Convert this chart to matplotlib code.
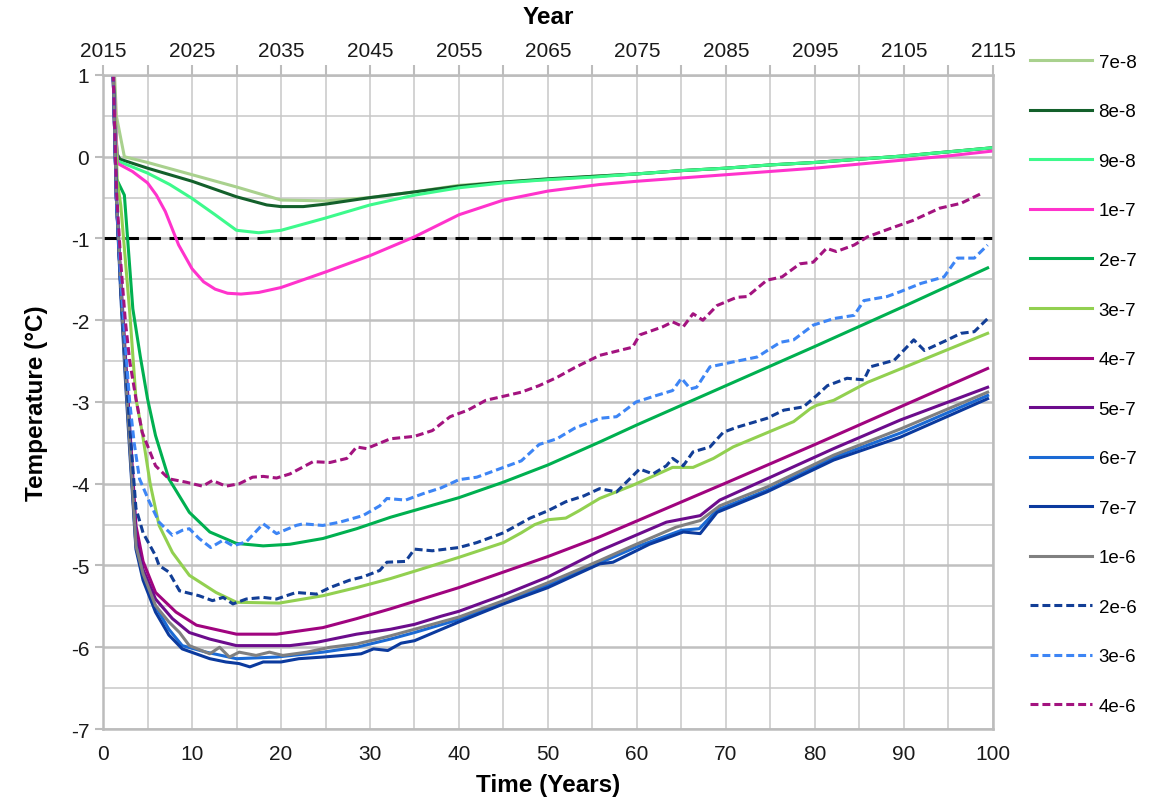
"""Ground temperature vs. time for a range of model parameter values.

Plots temperature (degC) over a 100-year horizon (2015-2115) for
fourteen parameter values, with the -1 degC threshold marked.
Saves the figure to out.png.
"""

import matplotlib.pyplot as plt
from matplotlib.ticker import MultipleLocator

# --- series data (time in years, temperature in degC) ---------------------

t_7e8 = [1.0, 1.3, 1.5, 2.4, 5, 10, 15, 20, 25, 30, 35, 40, 45, 50, 55, 60,
         65, 70, 75, 80, 85, 90, 95, 100]
T_7e8 = [1.6, 1.0, 0.5, 0.0, -0.07, -0.22, -0.37, -0.53, -0.54, -0.5, -0.43,
         -0.35, -0.31, -0.28, -0.24, -0.21, -0.17, -0.14, -0.1, -0.07, -0.03,
         0.01, 0.06, 0.11]

t_8e8 = [1.0, 1.4, 1.6, 1.9, 5, 10, 15, 18.4, 20, 22.5, 25, 30, 35, 40, 45,
         50, 55, 60, 65, 70, 75, 80, 85, 90, 95, 100]
T_8e8 = [1.6, 0.3, 0.03, -0.03, -0.14, -0.3, -0.49, -0.59, -0.61, -0.61,
         -0.58, -0.5, -0.43, -0.36, -0.31, -0.27, -0.24, -0.21, -0.17, -0.14,
         -0.1, -0.07, -0.03, 0.01, 0.06, 0.11]

t_9e8 = [1.0, 1.6, 5, 7.5, 10, 12.6, 15, 17.5, 20, 25, 30, 35, 40, 45, 50,
         55, 60, 65, 70, 75, 80, 85, 90, 95, 100]
T_9e8 = [1.6, -0.05, -0.2, -0.34, -0.51, -0.71, -0.9, -0.93, -0.9, -0.75,
         -0.59, -0.47, -0.38, -0.32, -0.28, -0.25, -0.21, -0.17, -0.14, -0.1,
         -0.07, -0.03, 0.01, 0.06, 0.11]

t_1e7 = [1.0, 1.6, 3.3, 5, 6, 7, 8.5, 10, 11.3, 12.6, 14, 15.5, 17.5, 20, 25,
         30, 35, 40, 45, 50, 55.8, 60, 65, 70, 75, 80, 85, 90, 95, 100]
T_1e7 = [1.6, -0.08, -0.18, -0.32, -0.47, -0.67, -1.08, -1.37, -1.53, -1.62,
         -1.67, -1.68, -1.66, -1.6, -1.41, -1.21, -0.98, -0.71, -0.53, -0.42,
         -0.34, -0.3, -0.26, -0.22, -0.18, -0.14, -0.09, -0.04, 0.01, 0.07]

t_2e7 = [1.0, 1.5, 2.4, 3.35, 4.2, 5, 5.9, 7.4, 9.7, 12, 15, 18, 21, 24.7,
         28.5, 32.3, 40, 45, 50, 55.8, 60, 70, 80, 90, 99.4]
T_2e7 = [1.6, -0.27, -0.47, -1.86, -2.45, -2.96, -3.41, -3.94, -4.35, -4.59,
         -4.73, -4.76, -4.74, -4.67, -4.55, -4.41, -4.17, -3.98, -3.77, -3.49,
         -3.28, -2.8, -2.32, -1.83, -1.36]

t_3e7 = [1.0, 1.6, 2.0, 3.0, 3.7, 4.4, 5.3, 6.3, 7.8, 9.7, 12.7, 15, 19.8,
         24.7, 28.5, 32.3, 35, 40, 45, 47, 48.5, 50, 52, 53.5, 55.8, 59.5, 64,
         66.3, 68.6, 70.8, 77.6, 79.5, 80.2, 82.1, 85.9, 99.4]
T_3e7 = [1.6, -0.3, -0.6, -1.9, -2.96, -3.37, -4.0, -4.51, -4.84, -5.12,
         -5.33, -5.45, -5.46, -5.37, -5.27, -5.16, -5.07, -4.9, -4.72, -4.6,
         -4.5, -4.44, -4.42, -4.33, -4.18, -4.02, -3.8, -3.8, -3.69, -3.55,
         -3.24, -3.08, -3.04, -2.98, -2.76, -2.16]

t_4e7 = [1.0, 1.5, 2.0, 2.5, 3.0, 3.7, 4.5, 5.9, 8.2, 10.5, 15, 19.5, 24.7,
         28.5, 32.3, 40, 45, 50, 55.8, 70, 80, 90, 99.4]
T_4e7 = [1.6, -0.5, -1.5, -2.4, -3.3, -4.51, -4.95, -5.33, -5.57, -5.73,
         -5.84, -5.84, -5.76, -5.65, -5.53, -5.27, -5.08, -4.89, -4.65, -3.99,
         -3.52, -3.04, -2.59]

t_5e7 = [1.0, 1.5, 2.0, 2.5, 3.0, 3.7, 4.5, 5.9, 7.8, 9.7, 12, 15, 21, 24,
         28.5, 32.3, 35, 38, 40, 45, 50, 55.8, 63.3, 67.1, 69.3, 74.6, 82.1,
         89.6, 99.4]
T_5e7 = [1.6, -0.5, -1.6, -2.5, -3.4, -4.67, -5.05, -5.41, -5.65, -5.82, -5.9,
         -5.98, -5.98, -5.94, -5.84, -5.78, -5.72, -5.62, -5.56, -5.36, -5.14,
         -4.82, -4.47, -4.39, -4.2, -3.94, -3.57, -3.22, -2.82]

t_6e7 = [1.0, 1.5, 2.0, 2.5, 3.0, 3.7, 4.5, 5.9, 7.4, 8.9, 11.6, 15, 19.5,
         24.7, 28.5, 32.3, 35, 40, 45, 50, 55.8, 60, 65, 67, 69, 74.6, 82.1,
         89.6, 99.4]
T_6e7 = [1.6, -0.5, -1.6, -2.6, -3.5, -4.76, -5.12, -5.5, -5.78, -5.98, -6.06,
         -6.14, -6.12, -6.06, -6.0, -5.9, -5.82, -5.66, -5.45, -5.24, -4.97,
         -4.77, -4.57, -4.55, -4.32, -4.08, -3.68, -3.38, -2.92]

t_7e7 = [1.0, 1.5, 2.0, 2.5, 3.0, 3.7, 4.5, 5.9, 7.4, 8.9, 12, 13.8, 15.3,
         16.5, 18, 20, 22, 24.7, 27, 29, 30.4, 32, 33.5, 35, 40, 45, 50, 55.8,
         57.3, 61.4, 65.2, 67.1, 69, 74.6, 82.1, 89.6, 99.4]
T_7e7 = [1.6, -0.5, -1.7, -2.7, -3.6, -4.8, -5.18, -5.57, -5.85, -6.02, -6.14,
         -6.18, -6.2, -6.24, -6.18, -6.18, -6.14, -6.12, -6.1, -6.08, -6.02,
         -6.04, -5.95, -5.92, -5.69, -5.47, -5.27, -4.98, -4.96, -4.74, -4.59,
         -4.61, -4.35, -4.1, -3.71, -3.43, -2.96]

t_1e6 = [1.0, 1.5, 2.0, 2.5, 3.0, 3.7, 4.5, 5.9, 7.4, 8.6, 9.7, 12, 13.1,
         14.2, 15.3, 17.2, 18.7, 20.2, 22.9, 25.5, 28.5, 32.3, 35, 40, 45, 50,
         55.8, 59.5, 64.4, 67.1, 69.3, 74.6, 82.1, 89.6, 99.4]
T_1e6 = [1.6, -0.5, -1.6, -2.6, -3.5, -4.76, -5.1, -5.49, -5.69, -5.82, -5.98,
         -6.08, -6.0, -6.12, -6.06, -6.1, -6.06, -6.1, -6.06, -6.0, -5.96,
         -5.86, -5.78, -5.63, -5.43, -5.21, -4.94, -4.76, -4.53, -4.45, -4.27,
         -4.04, -3.65, -3.33, -2.88]

t_2e6 = [1.0, 1.5, 2.0, 2.5, 3.0, 3.7, 4.5, 5.9, 6.3, 7.4, 8.6, 10.8, 12.3,
         13.5, 14.6, 16.1, 18, 19.5, 21.7, 24, 25.5, 27.7, 29.2, 31.1, 31.9,
         34, 35, 37, 40, 42, 45, 48, 50, 52, 54, 55.8, 57.7, 60.3, 61.8, 63.3,
         64, 65.2, 66.3, 68.2, 69.7, 71.2, 74.6, 76.5, 78.7, 80.2, 81.4, 83.6,
         85.5, 86.2, 88.9, 91.1, 92.3, 94.9, 96.4, 97.9, 99.4]
T_2e6 = [1.6, -0.5, -1.6, -2.5, -3.3, -4.3, -4.6, -4.88, -5.0, -5.08, -5.31,
         -5.37, -5.43, -5.39, -5.47, -5.41, -5.39, -5.41, -5.33, -5.35, -5.27,
         -5.18, -5.14, -5.06, -4.96, -4.95, -4.8, -4.82, -4.78, -4.72, -4.6,
         -4.42, -4.33, -4.22, -4.15, -4.06, -4.1, -3.82, -3.88, -3.78, -3.69,
         -3.78, -3.61, -3.55, -3.37, -3.31, -3.2, -3.1, -3.06, -2.92, -2.8,
         -2.71, -2.73, -2.57, -2.49, -2.24, -2.37, -2.24, -2.16, -2.14, -1.98]

t_3e6 = [1.0, 1.5, 2.0, 2.5, 3.0, 3.5, 4.1, 5.2, 6.3, 7.8, 8.9, 9.7, 10.8,
         12.1, 13.5, 14.6, 16.1, 18, 19.5, 21.7, 22.5, 24.7, 26.6, 29.2, 31.1,
         31.9, 34, 36, 38, 40, 42, 45, 47, 49, 51, 53, 55.8, 57.7, 59.9, 62.2,
         64, 65, 66, 66.7, 68.2, 70.8, 73.5, 76.1, 77.6, 79.8, 82.1, 84.4,
         85.5, 88.1, 89.6, 91.9, 94.5, 96, 97.9, 99.4]
T_3e6 = [1.6, -0.5, -1.5, -2.3, -3.0, -3.5, -3.94, -4.22, -4.47, -4.63, -4.57,
         -4.55, -4.67, -4.78, -4.69, -4.76, -4.71, -4.49, -4.61, -4.51, -4.49,
         -4.51, -4.47, -4.39, -4.27, -4.18, -4.2, -4.12, -4.05, -3.95, -3.92,
         -3.8, -3.72, -3.52, -3.45, -3.32, -3.2, -3.18, -3.0, -2.92, -2.86,
         -2.71, -2.84, -2.82, -2.57, -2.51, -2.45, -2.27, -2.24, -2.06, -1.98,
         -1.94, -1.76, -1.71, -1.65, -1.55, -1.47, -1.24, -1.24, -1.08]

t_4e6 = [1.0, 1.5, 2.0, 2.5, 3.0, 3.7, 4.4, 5.9, 7.4, 9.3, 11.2, 12.3, 13.8,
         15.3, 16.8, 18, 19.5, 21, 23.6, 25.5, 27.4, 28.5, 29.6, 32.3, 35, 37,
         39, 41, 43, 45, 47, 49, 51, 53, 55.8, 59.5, 60.3, 62.9, 64, 65.2,
         66.3, 67.4, 69, 71.2, 72.4, 74.6, 76.3, 78.3, 79.8, 81.3, 82.4, 84.4,
         85.9, 88.4, 91, 94, 96.4, 98.7]
T_4e6 = [1.6, -0.4, -1.3, -2.0, -2.5, -2.96, -3.37, -3.78, -3.94, -3.98,
         -4.03, -3.96, -4.03, -4.0, -3.92, -3.91, -3.93, -3.88, -3.73, -3.74,
         -3.69, -3.55, -3.57, -3.45, -3.42, -3.35, -3.18, -3.1, -2.98, -2.93,
         -2.88, -2.8, -2.7, -2.58, -2.43, -2.33, -2.18, -2.08, -2.02, -2.08,
         -1.92, -2.0, -1.82, -1.72, -1.71, -1.51, -1.47, -1.31, -1.29, -1.12,
         -1.16, -1.08, -0.98, -0.88, -0.78, -0.63, -0.57, -0.45]

labels = ["7e-8", "8e-8", "9e-8", "1e-7", "2e-7", "3e-7", "4e-7", "5e-7",
          "6e-7", "7e-7", "1e-6", "2e-6", "3e-6", "4e-6"]
times = [t_7e8, t_8e8, t_9e8, t_1e7, t_2e7, t_3e7, t_4e7, t_5e7, t_6e7,
         t_7e7, t_1e6, t_2e6, t_3e6, t_4e6]
temps = [T_7e8, T_8e8, T_9e8, T_1e7, T_2e7, T_3e7, T_4e7, T_5e7, T_6e7,
         T_7e7, T_1e6, T_2e6, T_3e6, T_4e6]
colors = ["#a9d18e", "#13602b", "#3dfa8c", "#ff33cc", "#00b050", "#92d050",
          "#a0047f", "#6c0c8c", "#1b6ad4", "#0b3a9e", "#808080", "#123e96",
          "#3d85f5", "#a3137f"]
dashed = [False] * 11 + [True] * 3

start_year = 2015
threshold = -1.0

plt.rcParams["font.family"] = ["Liberation Sans", "DejaVu Sans"]
plt.rcParams["axes.unicode_minus"] = False

fig = plt.figure(figsize=(11.51, 8.03), dpi=100)
ax = fig.add_axes([0.0895, 0.0909, 0.7732, 0.8145])

for t, T, c, lab, dsh in zip(times, temps, colors, labels, dashed):
    if dsh:
        ax.plot(t, T, color=c, lw=2.2, dashes=(2.6, 1.3), label=lab)
    else:
        ax.plot(t, T, color=c, lw=2.2, label=lab)

ax.axhline(threshold, color="black", lw=2.2, dashes=(4.4, 2.8), zorder=1.5)

ax.set_xlim(0, 100)
ax.set_ylim(-7, 1)
ax.xaxis.set_major_locator(MultipleLocator(10))
ax.xaxis.set_minor_locator(MultipleLocator(5))
ax.yaxis.set_major_locator(MultipleLocator(1))
ax.yaxis.set_minor_locator(MultipleLocator(0.5))

grid_col = "#c8c8c8"
ax.grid(True, which="major", axis="y", color="#c0c0c0", lw=1.8)
ax.grid(True, which="minor", axis="y", color=grid_col, lw=1.1)
ax.grid(True, which="both", axis="x", color=grid_col, lw=1.1)
ax.set_axisbelow(True)

for side in ["left", "right", "top", "bottom"]:
    ax.spines[side].set_color("#bcbcbc")
    ax.spines[side].set_linewidth(1.8)

ax.tick_params(axis="x", which="both", length=0, labelsize=15, pad=11,
               colors="#1a1a1a")
ax.tick_params(axis="y", which="major", length=6, width=1.5, color="#bcbcbc",
               labelsize=15, pad=4, labelcolor="#1a1a1a")
ax.tick_params(axis="y", which="minor", length=0)

ax.set_xlabel("Time (Years)", fontsize=17.5, fontweight="bold", labelpad=7)
ax.set_ylabel("Temperature (°C)", fontsize=17.5, fontweight="bold",
              labelpad=16)

# calendar-year axis along the top
top = ax.twiny()
top.set_xlim(ax.get_xlim())
top.set_xticks(range(0, 101, 5))
top.set_xticklabels([str(start_year + k) if k % 10 == 0 else ""
                     for k in range(0, 101, 5)])
top.tick_params(axis="x", length=7, width=1.5, color="#bcbcbc", labelsize=15,
                pad=4, labelcolor="#1a1a1a")
for side in ["left", "right", "top", "bottom"]:
    top.spines[side].set_visible(False)
top.set_xlabel("Year", fontsize=17.5, fontweight="bold", labelpad=13)

handles, labs = ax.get_legend_handles_labels()
fig.legend(handles, labs, loc="upper left", bbox_to_anchor=(0.895, 0.932),
           frameon=False, fontsize=13.5, handlelength=3.3, handletextpad=0.35,
           labelspacing=1.73, borderpad=0, borderaxespad=0)

fig.savefig("out.png", dpi=100)
